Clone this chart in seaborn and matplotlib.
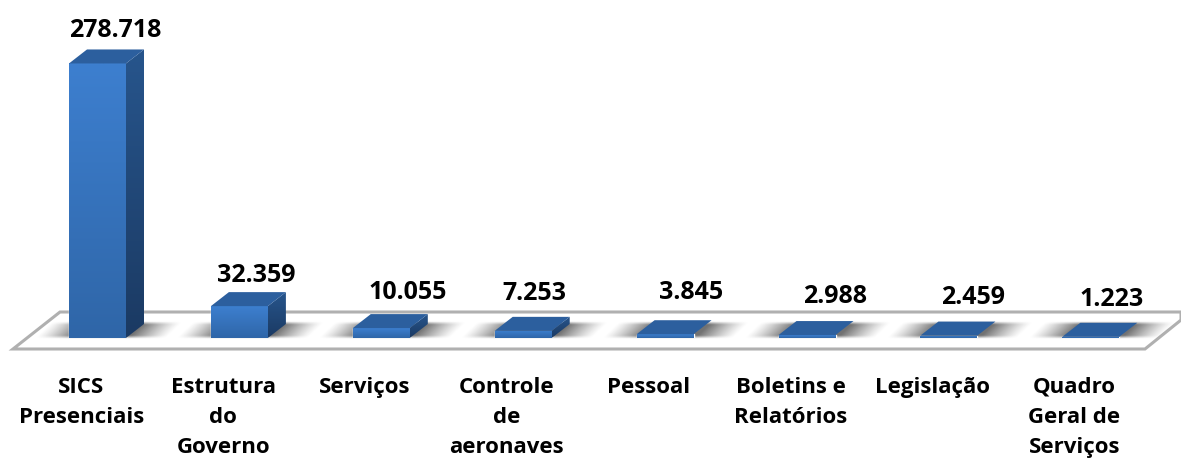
import numpy as np
import pandas as pd
import matplotlib
matplotlib.use("Agg")
import matplotlib.pyplot as plt
import seaborn as sns
from matplotlib.colors import to_rgb
from matplotlib.patches import Polygon
from matplotlib.transforms import IdentityTransform

# Chart data
categories = ["SICS\nPresenciais", "Estrutura\ndo\nGoverno", "Serviços", "Controle\nde\naeronaves",
              "Pessoal", "Boletins e\nRelatórios", "Legislação", "Quadro\nGeral de\nServiços"]
values = [278718, 32359, 10055, 7253, 3845, 2988, 2459, 1223]
value_labels = ["278.718", "32.359", "10.055", "7.253", "3.845", "2.988", "2.459", "1.223"]

# Hand placed label offsets from the bar top centre, in pixels
label_dx = [18, 17, 26, 11, 26, 28, 24, 21]
label_dy = [33, 31, 36, 37, 42, 39, 38, 37]

W, H = 1181, 459
SLOT = 141.9        # px between bars
BASE_Y = 338        # px from top of image to the bar bottoms
PX_PER_UNIT = 0.000985
DEPTH_X = 18 / SLOT
DEPTH_Y = 14 / PX_PER_UNIT

sns.set_theme(style="white")
plt.rcParams["font.family"] = ["Open Sans", "DejaVu Sans"]

fig = plt.figure(figsize=(W / 100, H / 100), dpi=100)
left = 97.5 - SLOT / 2
ax = fig.add_axes([left / W, (H - BASE_Y) / H, SLOT * 8 / W, BASE_Y / H])
ax.patch.set_alpha(0)

df = pd.DataFrame({"categoria": categories, "valor": values})
sns.barplot(data=df, x="categoria", y="valor", color="#3a78c4", width=57 / SLOT, saturation=1, ax=ax)
ax.set_xlim(-0.5, 7.5)
ax.set_ylim(0, BASE_Y / PX_PER_UNIT)
ax.set_autoscale_on(False)


def gradient_face(verts, top, bottom, zorder=3):
    verts = np.array(verts)
    grad = np.linspace(to_rgb(top), to_rgb(bottom), 64).reshape(64, 1, 3)
    ext = [verts[:, 0].min(), verts[:, 0].max(), verts[:, 1].min(), verts[:, 1].max()]
    im = ax.imshow(grad, extent=ext, aspect="auto", origin="upper", zorder=zorder, interpolation="bilinear")
    clip = Polygon(verts, closed=True, transform=ax.transData, facecolor="none", edgecolor="none")
    ax.add_patch(clip)
    im.set_clip_path(clip)


def draw_shadow(x0, x1):
    # soft grey shadow spread out on the floor on both sides of the bar
    nx, ny = 120, 24
    xs = np.linspace(-70, 90, nx)
    ys = np.linspace(0, 1, ny)
    xx, yy = np.meshgrid(xs, ys)
    xc = xx - 18 * (1 - yy) - 2
    spread = np.clip(1 - (np.abs(xc) - 28) / 38, 0, 1)
    fade = np.clip(np.sin(np.pi * yy) * 1.8, 0, 1)
    rgba = np.zeros((ny, nx, 4))
    rgba[..., :3] = 0.35
    rgba[..., 3] = 0.85 * spread ** 1.2 * fade
    mid = (x0 + x1) / 2
    ax.imshow(rgba, extent=[mid - 70 / SLOT, mid + 90 / SLOT, -1 / PX_PER_UNIT, 17 / PX_PER_UNIT],
              aspect="auto", origin="upper", zorder=1.5, interpolation="bilinear", clip_on=False)


# Floor plate, drawn in image pixels
def px(x, y):
    return (x, H - y)


floor = Polygon([px(13, 349), px(60, 312), px(1181, 312), px(1181, 320), px(1145, 349)], closed=True,
                transform=IdentityTransform(), facecolor="white", edgecolor="#b0b0b0", linewidth=2.2,
                zorder=1, clip_on=False)
ax.add_patch(floor)

# 3D look, built from the bars seaborn drew
for bar in list(ax.patches):
    if bar is floor:
        continue
    x0, x1 = bar.get_x(), bar.get_x() + bar.get_width()
    h = bar.get_height()
    draw_shadow(x0, x1)
    gradient_face([(x0, 0), (x1, 0), (x1, h), (x0, h)], "#3d7fcf", "#2f66a8", zorder=3.2)
    if h > DEPTH_Y / 2:
        gradient_face([(x1, 0), (x1 + DEPTH_X, DEPTH_Y), (x1 + DEPTH_X, h + DEPTH_Y), (x1, h)],
                      "#27558c", "#1b3a63", zorder=3.1)
    ax.add_patch(Polygon([(x0, h), (x1, h), (x1 + DEPTH_X, h + DEPTH_Y), (x0 + DEPTH_X, h + DEPTH_Y)],
                         closed=True, facecolor="#2c5f9e", edgecolor="none", zorder=3.3))
    bar.set_zorder(2)

# Value labels
for i, (v, lab) in enumerate(zip(values, value_labels)):
    ax.annotate(lab, xy=(i, v), xytext=(label_dx[i], label_dy[i]), textcoords="offset pixels",
                ha="center", va="center", fontsize=18, fontweight="bold", color="black",
                annotation_clip=False, zorder=5)

# Category labels sit a little left of the bars
ax.set_xticks(np.arange(len(categories)) - 0.115)
ax.set_xticklabels(categories, fontsize=16, fontweight="bold", color="black", linespacing=1.58)
ax.tick_params(axis="x", length=0, pad=28)
ax.set_yticks([])
ax.set_xlabel("")
ax.set_ylabel("")
sns.despine(ax=ax, left=True, bottom=True)

fig.savefig("out.png", dpi=100, facecolor="white")
